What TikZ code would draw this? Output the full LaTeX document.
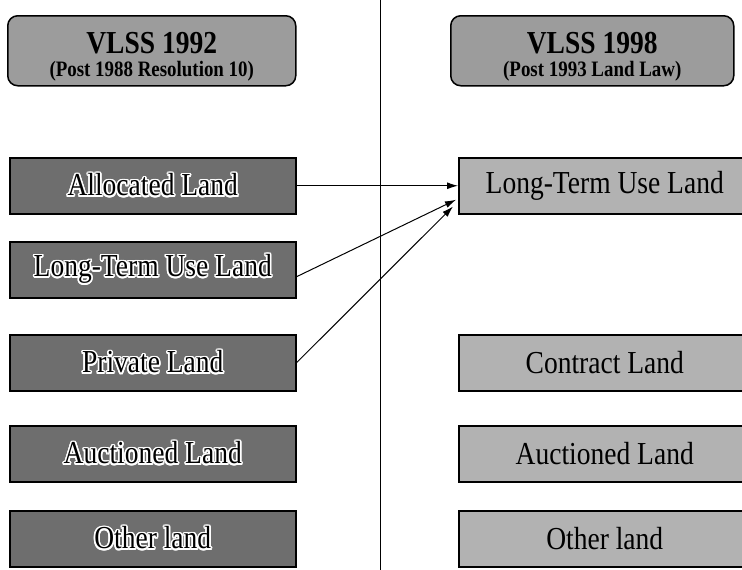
\documentclass[tikz,border=0pt]{standalone}
\usepackage{fontspec}
\setmainfont{Liberation Serif}
\newfontfamily\boxfont[FakeStretch=0.86]{Liberation Serif}
\usepackage[copies]{contour}
\contourlength{1.6pt}
\contournumber{16}
\usetikzlibrary{arrows.meta}
\definecolor{leftgray}{HTML}{6E6E6E}
\definecolor{rightgray}{HTML}{B2B2B2}
\definecolor{headgray}{HTML}{9C9C9C}
\tikzset{
  basebox/.style={draw=black, line width=1.5pt, rectangle, inner sep=0pt,
    anchor=north west, minimum height=56pt,
    font=\boxfont\fontsize{32}{32}\selectfont},
  lbox/.style={basebox, fill=leftgray, text=black, minimum width=286pt},
  rbox/.style={basebox, fill=rightgray, text=black, minimum width=292pt},
  headbox/.style={draw=black, line width=1.5pt, rounded corners=10pt,
    fill=headgray, anchor=north west, minimum width=288pt, minimum height=70pt,
    inner sep=0pt, align=center, font=\boxfont\bfseries},
  conn/.style={draw=black, line width=1pt, -{Latex[length=11pt,width=7pt]}},
  divider/.style={draw=black, line width=1pt}
}
\begin{document}
\begin{tikzpicture}[x=1pt,y=-1pt]
\useasboundingbox (0,0) rectangle (742,570);
\clip (0,0) rectangle (742,570);
% divider
\coordinate (dtop) at (380,0);
\coordinate (dbot) at (380,570);
\draw[divider] (dtop) -- (dbot);
% headers
\node[headbox] (h1) at (7,15) {{\fontsize{32}{30}\selectfont\rule{0pt}{33pt}VLSS 1992}\\[6pt]{\fontsize{22}{22}\selectfont (Post 1988 Resolution 10)}};
\node[headbox, minimum width=283pt] (h2) at (450,15) {{\fontsize{32}{30}\selectfont\rule{0pt}{33pt}VLSS 1998}\\[6pt]{\fontsize{22}{22}\selectfont (Post 1993 Land Law)}};
% left column
\node[lbox] (alloc) at (9,157) {\contour{white}{Allocated Land}};
\node[lbox] (llt) at (9,241) {\contour{white}{Long-Term Use Land}};
\node[lbox] (priv) at (9,334) {\contour{white}{Private Land}};
\node[lbox] (lauc) at (9,425) {\contour{white}{Auctioned Land}};
\node[lbox] (loth) at (9,510) {\contour{white}{Other land}};
% right column
\node[rbox] (rlt) at (458,157) {Long-Term Use Land};
\node[rbox] (contract) at (458,334) {Contract Land};
\node[rbox] (rauc) at (458,425) {Auctioned Land};
\node[rbox] (roth) at (458,510) {Other land};
% connectors
\draw[conn] (alloc.east) -- (rlt.west);
\draw[conn] ([yshift=-7pt]llt.east) -- ([xshift=-2pt,yshift=-14pt]rlt.west);
\draw[conn] (priv.east) -- ([xshift=-5pt,yshift=8pt]rlt.south west);
\end{tikzpicture}
\end{document}
